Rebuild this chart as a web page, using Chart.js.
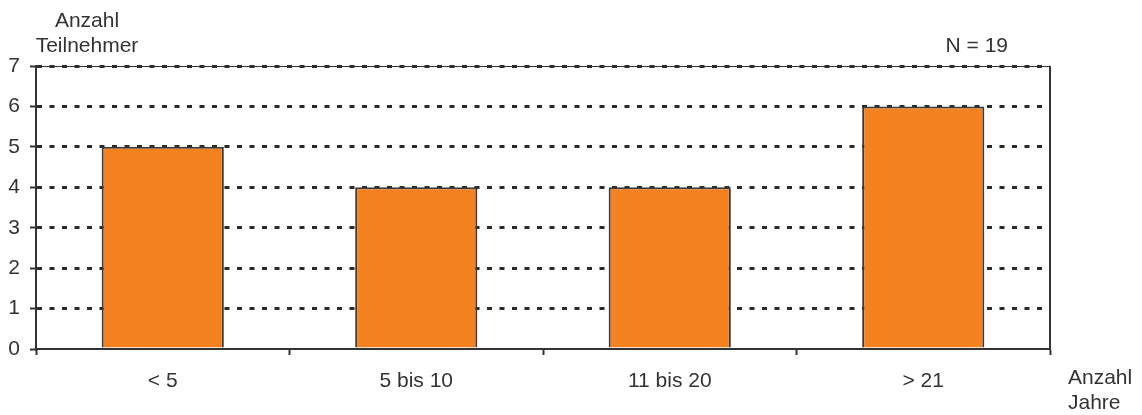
<!DOCTYPE html>
<html>
<head>
<meta charset="utf-8">
<script src="https://cdn.jsdelivr.net/npm/chart.js@4.4.0/dist/chart.umd.min.js"></script>
<style>
    html, body { margin: 0; padding: 0; background: #ffffff; }
    #wrap { width: 1142px; height: 415px; position: relative; }
</style>
</head>
<body>
<div id="wrap"><canvas id="chart" width="1142" height="415"></canvas></div>
<script>
// Daten aus der Grafik
const categories = ['< 5', '5 bis 10', '11 bis 20', '> 21'];
const participants = [5, 4, 4, 6];
const yTicks = [0, 1, 2, 3, 4, 5, 6, 7];
const yTitle = ['Anzahl', 'Teilnehmer'];
const xTitle = ['Anzahl', 'Jahre'];
const note = 'N = 19';

const textColor = '#333333';
const lineColor = '#333333';
const font = { family: 'Liberation Sans, Arial, sans-serif', size: 21 };

// zusätzliche Beschriftungen + Rahmen oben/rechts
const extras = {
    id: 'extras',
    afterDraw(chart) {
        const { ctx, chartArea } = chart;
        ctx.save();
        ctx.strokeStyle = lineColor;
        ctx.lineWidth = 1;
        ctx.beginPath();
        ctx.moveTo(chartArea.left, chartArea.top + 0.5);
        ctx.lineTo(chartArea.right, chartArea.top + 0.5);
        ctx.stroke();
        ctx.lineWidth = 2;
        ctx.beginPath();
        ctx.moveTo(chartArea.right, chartArea.top);
        ctx.lineTo(chartArea.right, chartArea.bottom);
        ctx.stroke();

        ctx.fillStyle = textColor;
        ctx.font = `${font.size}px ${font.family}`;
        ctx.textBaseline = 'alphabetic';
        ctx.textAlign = 'center';
        yTitle.forEach((t, i) => ctx.fillText(t, 87, 27 + i * 25));
        ctx.textAlign = 'right';
        ctx.fillText(note, 1008, 52);
        ctx.textAlign = 'left';
        xTitle.forEach((t, i) => ctx.fillText(t, 1068, 384 + i * 25));
        ctx.restore();
    }
};

new Chart(document.getElementById('chart').getContext('2d'), {
    type: 'bar',
    data: {
        labels: categories,
        datasets: [{
            label: 'Anzahl Teilnehmer',
            data: participants,
            backgroundColor: '#F58220',
            borderColor: '#3a3a3a',
            borderWidth: 2,
            barPercentage: 0.482,
            categoryPercentage: 1
        }]
    },
    options: {
        responsive: false,
        animation: false,
        layout: {
            padding: { left: 0, right: 92, top: 66, bottom: 0 }
        },
        plugins: {
            legend: { display: false },
            tooltip: { enabled: false }
        },
        scales: {
            x: {
                afterFit: (scale) => { scale.height = 66; },
                grid: {
                    offset: true,
                    drawOnChartArea: false,
                    tickLength: 6,
                    tickColor: lineColor,
                    tickWidth: 2
                },
                border: { color: lineColor, width: 2 },
                ticks: { color: textColor, font, padding: 14 }
            },
            y: {
                min: 0,
                max: 7,
                afterFit: (scale) => { scale.width = 36; },
                afterBuildTicks: (scale) => { scale.ticks = yTicks.map(v => ({ value: v })); },
                grid: {
                    // Nulllinie übernimmt die x-Achse
                    color: (c) => (c.tick && c.tick.value === 0 ? 'rgba(0,0,0,0)' : '#2a2a2a'),
                    lineWidth: 3,
                    tickLength: 6,
                    tickColor: lineColor,
                    tickWidth: 2,
                    tickBorderDash: []
                },
                border: { color: lineColor, width: 2, dash: [5, 7.5] },
                ticks: { color: textColor, font, padding: 10 }
            }
        }
    },
    plugins: [extras]
});
</script>
</body>
</html>
